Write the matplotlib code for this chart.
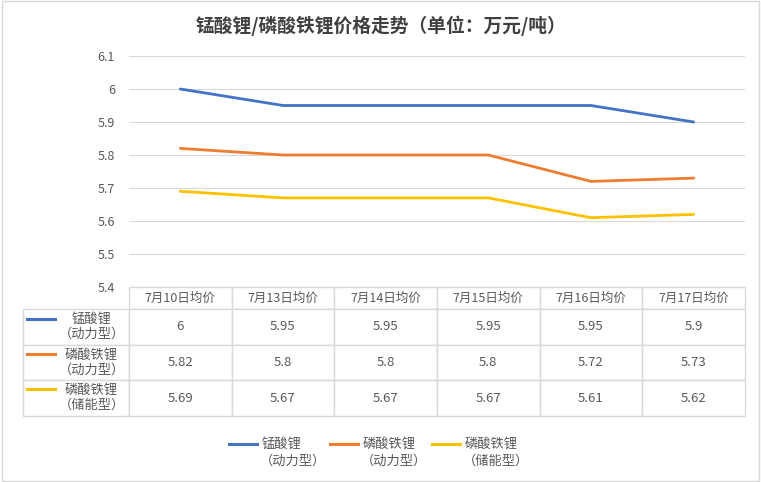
import matplotlib
matplotlib.use('Agg')
import matplotlib.pyplot as plt
from matplotlib.lines import Line2D
from matplotlib.patches import Rectangle

plt.rcParams['font.family'] = ['Noto Sans CJK SC', 'DejaVu Sans']

# 数据
dates = ['7月10日均价', '7月13日均价', '7月14日均价', '7月15日均价', '7月16日均价', '7月17日均价']
series_names = ['锰酸锂\n（动力型）', '磷酸铁锂\n（动力型）', '磷酸铁锂\n（储能型）']
mn_power = [6, 5.95, 5.95, 5.95, 5.95, 5.9]
lfp_power = [5.82, 5.8, 5.8, 5.8, 5.72, 5.73]
lfp_storage = [5.69, 5.67, 5.67, 5.67, 5.61, 5.62]
y_ticks = [5.4, 5.5, 5.6, 5.7, 5.8, 5.9, 6, 6.1]

cores = ['#4472C4', '#ED7D31', '#FFC000']
texto = '#595959'
grade = '#d9d9d9'

W, H = 761, 482
fig = plt.figure(figsize=(W / 100, H / 100), dpi=100)
fig.patches.append(Rectangle((0.003, 0.003), 0.994, 0.994, transform=fig.transFigure,
                             fill=False, edgecolor=grade, linewidth=1))

ax = fig.add_axes([129 / W, 1 - 287 / H, 616 / W, 231 / H])
x = list(range(len(dates)))
for vals, cor in zip([mn_power, lfp_power, lfp_storage], cores):
    ax.plot(x, vals, color=cor, linewidth=2, solid_capstyle='round')

ax.set_xlim(-0.5, len(dates) - 0.5)
ax.set_ylim(5.4, 6.1)
ax.set_yticks(y_ticks)
ax.set_yticklabels([f'{v:g}' for v in y_ticks])
ax.set_xticks([])
ax.tick_params(axis='y', length=0, pad=10, labelsize=9, labelcolor=texto)
ax.grid(axis='y', color=grade, linewidth=0.8)
ax.set_axisbelow(True)
for s in ax.spines.values():
    s.set_visible(False)

# tabela de dados
cell_text = [[''] + dates]
for nome, vals in zip(series_names, [mn_power, lfp_power, lfp_storage]):
    cell_text.append([nome] + [f'{v:g}' for v in vals])

tab = ax.table(cellText=cell_text, cellLoc='center',
               bbox=[(23 - 129) / 616, -129 / 231, 722 / 616, 129 / 231])
tab.auto_set_font_size(False)
tab.set_fontsize(9.5)
alturas = [22, 35.7, 35.7, 35.7]
larguras = [106] + [102.7] * len(dates)
for (r, c), cell in tab.get_celld().items():
    cell.set_height(alturas[r])
    cell.set_width(larguras[c])
    cell.set_edgecolor(grade)
    cell.set_linewidth(1)
    cell.get_text().set_color(texto)
    if r == 0:
        cell.get_text().set_fontsize(9)
    if r == 0 and c == 0:
        cell.visible_edges = ''
    if c == 0 and r > 0:
        cell._loc = 'right'
        cell.PAD = 0.04
        cell.get_text().set_horizontalalignment('right')
        cell.get_text().set_multialignment('center')

# chaves de legenda na tabela
linhas_y = [319, 354, 389]
for cor, yy in zip(cores, linhas_y):
    fig.add_artist(Line2D([27 / W, 55 / W], [1 - yy / H, 1 - yy / H],
                          transform=fig.transFigure, color=cor, linewidth=2.2))

fig.text(0.5, 1 - 26 / H, '锰酸锂/磷酸铁锂价格走势（单位：万元/吨）', ha='center', va='center',
         fontsize=13.5, fontweight='bold', color='#404040')

# legenda inferior (primeira linha alinhada com a chave)
leg_x = [229, 330, 432]
for cor, nome, lx in zip(cores, series_names, leg_x):
    fig.add_artist(Line2D([lx / W, (lx + 28) / W], [1 - 444 / H, 1 - 444 / H],
                          transform=fig.transFigure, color=cor, linewidth=2.2))
    l1, l2 = nome.split('\n')
    fig.text((lx + 33) / W, 1 - 444 / H, l1, ha='left', va='center', fontsize=9.5, color=texto)
    fig.text((lx + 31) / W, 1 - 461 / H, l2, ha='left', va='center', fontsize=9.5, color=texto)

fig.savefig('out.png', dpi=100)
